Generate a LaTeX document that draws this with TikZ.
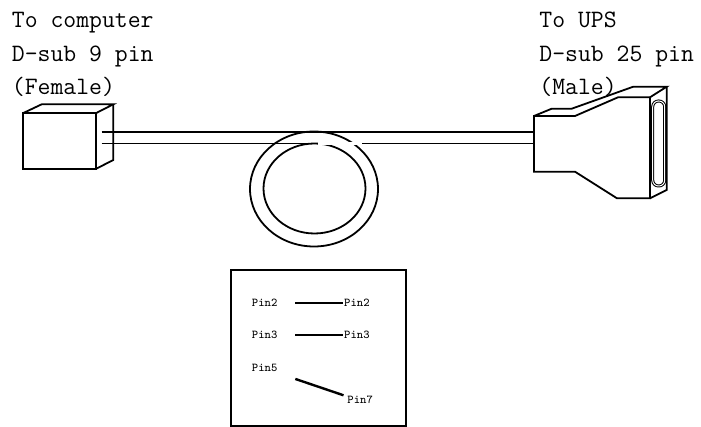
\documentclass[tikz,border=0pt]{standalone}
\begin{document}
\begin{tikzpicture}[x=0.5pt, y=-0.5pt, line width=0.9pt]
    \tikzstyle{every node} = [inner sep = 0pt];
    \tikzstyle{plugtext} = [anchor = base west, font = \fontsize{12.5}{15}\selectfont\ttfamily];
    \tikzstyle{pintext} = [anchor = west, font = \fontsize{6}{7}\selectfont\ttfamily];
    \useasboundingbox (0,0) rectangle (701,427);
    \node[plugtext] (c1) at (11,28) {To computer};
    \node[plugtext] (c2) at (11,61.5) {D-sub 9 pin};
    \node[plugtext] (c3) at (11,95) {(Female)};
    \node[plugtext] (u1) at (538.5,28) {To UPS};
    \node[plugtext] (u2) at (538.5,61.5) {D-sub 25 pin};
    \node[plugtext] (u3) at (538.5,95) {(Male)};
    \draw (101.7,131.7) -- (534,131.7);
    \draw (101.7,143.5) -- (534,143.5);
    \draw (314,189) ellipse [x radius = 64, y radius = 57.5];
    \draw (314.5,188.5) ellipse [x radius = 51, y radius = 45];
    \draw[white, line width = 1.6pt] (318,143.5) -- (362,143.5);
    \draw (22.7,113.3) rectangle (95.7,169);
    \draw (22.7,113.3) -- (41.7,104.3) -- (113.3,104.3) -- (95.7,113.3);
    \draw (113.3,104.3) -- (113.3,160) -- (95.7,169);
    \draw (534,116) -- (575,116) -- (618,97.3) -- (650,97.3) -- (650,198.3) -- (617,198.3) -- (575,171.7) -- (534,171.7) -- cycle;
    \draw (534,116) -- (551.7,108.7) -- (571.7,108.7) -- (633.3,86.7) -- (666.7,86.7) -- (650,97.3);
    \draw (666.7,86.7) -- (666.7,190) -- (650,198.3);
    \draw[line width = 0.5pt, double, double distance = 0.5pt, rounded corners = 2.9pt] (652.7,101) rectangle (664.7,186);
    \draw (230.7,270) rectangle (405.7,425.7);
    \node[pintext] (p2) at (251,303) {Pin2};
    \node[pintext] (p3) at (251,335) {Pin3};
    \node[pintext] (p5) at (251,368.3) {Pin5};
    \node[pintext] (q2) at (343.3,303) {Pin2};
    \node[pintext] (q3) at (343.3,335) {Pin3};
    \node[pintext] (q7) at (346.5,400) {Pin7};
    \draw[line width = 1.2pt] ([xshift = 8.5pt]p2.east) -- (q2.west);
    \draw[line width = 1.2pt] ([xshift = 8.5pt]p3.east) -- (q3.west);
    \draw[line width = 1.2pt] ([xshift = 8.5pt, yshift = -3pt]p5.south east) -- ([xshift = -1.5pt]q7.north west);
\end{tikzpicture}
\end{document}
